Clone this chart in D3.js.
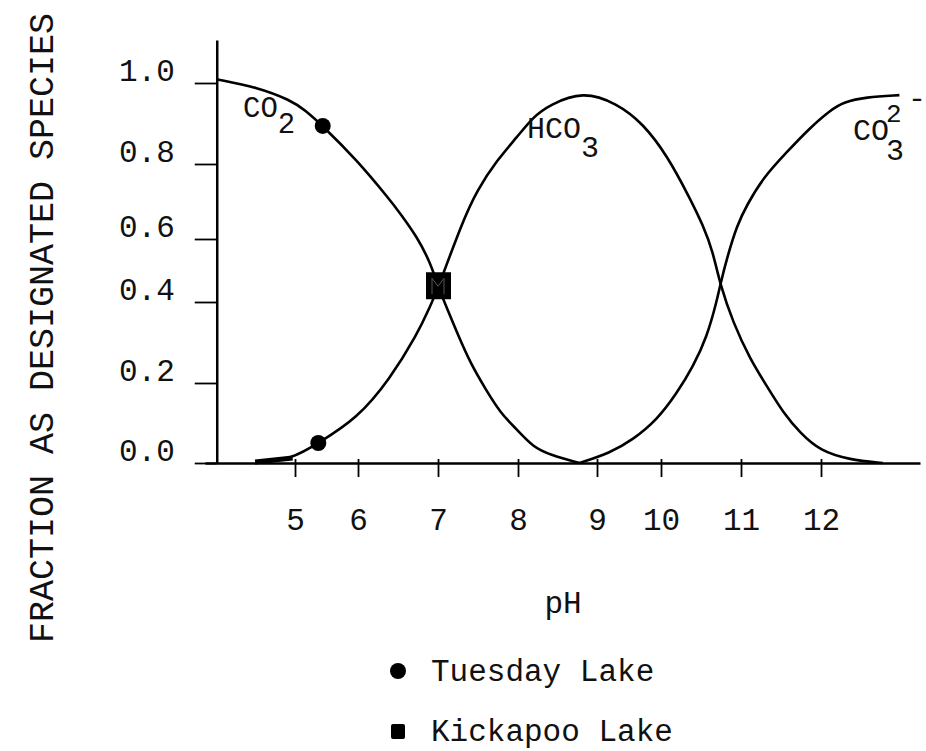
<!DOCTYPE html>
<html>
<head>
<meta charset="utf-8">
<script src="https://cdnjs.cloudflare.com/ajax/libs/d3/7.8.5/d3.min.js"></script>
<style>
  body { margin: 0; background: #fff; }
  svg text { font-family: 'Liberation Mono', 'DejaVu Sans Mono', monospace; fill: #111; }
</style>
</head>
<body>
<div id="chart"></div>
<script>
// pH ticks and fraction ticks as they are marked on the axes
var phTicks = [5, 6, 7, 8, 9, 10, 11, 12];
var fracTicks = [0.0, 0.2, 0.4, 0.6, 0.8, 1.0];

// CO2 (falls from 1 to 0)
var co2PH   = [4.01, 4.51, 4.94, 5.16, 5.44, 5.98, 6.40, 6.525, 6.74, 6.90, 7.00, 7.11, 7.25, 7.41, 7.60, 7.78, 7.99, 8.19, 8.41, 8.78];
var co2Frac = [1.01, 0.99, 0.958, 0.933, 0.894, 0.81, 0.704, 0.669, 0.605, 0.527, 0.451, 0.385, 0.319, 0.247, 0.183, 0.125, 0.083, 0.04, 0.02, 0.0];

// HCO3 (rises then falls)
var hco3PH   = [4.49, 4.97, 5.37, 5.98, 6.40, 6.74, 6.90, 7.00, 7.30, 7.49, 7.74, 7.99, 8.19, 8.40, 8.82, 9.31, 9.72, 10.08, 10.36, 10.525, 10.65, 10.74, 10.90, 11.11, 11.33, 11.53, 11.74, 11.99, 12.36, 12.78];
var hco3Frac = [0.0, 0.01, 0.05, 0.11, 0.21, 0.32, 0.388, 0.444, 0.643, 0.731, 0.81, 0.867, 0.916, 0.946, 0.98, 0.95, 0.90, 0.82, 0.709, 0.637, 0.559, 0.454, 0.35, 0.26, 0.19, 0.125, 0.075, 0.03, 0.008, 0.0];

// CO3 2- (rises from 0 to 1)
var co3PH   = [8.78, 9.20, 9.56, 9.94, 10.20, 10.40, 10.575, 10.70, 10.74, 10.825, 10.95, 11.075, 11.275, 11.575, 11.86, 12.12, 12.29, 12.56, 12.99];
var co3Frac = [0.0, 0.025, 0.058, 0.108, 0.175, 0.24, 0.314, 0.406, 0.454, 0.54, 0.637, 0.691, 0.763, 0.83, 0.889, 0.933, 0.953, 0.965, 0.97];

// lake measurements
var tuesdayPH   = [5.44, 5.37];
var tuesdayFrac = [0.894, 0.05];
var kickapooPH   = [7.0];
var kickapooFrac = [0.45];

var lakes = ['Tuesday Lake', 'Kickapoo Lake'];

var width = 926,
    height = 751;

var svg = d3.select('#chart')
  .append('svg')
  .attr('width', width)
  .attr('height', height);

// hand drawn axes, so tick spacing is not even
var x = d3.scaleLinear()
  .domain([3.85, 5, 6, 7, 8, 9, 10, 11, 12, 13.25])
  .range([205, 295, 358, 438, 518, 597, 661, 741, 821, 920]);

var y = d3.scaleLinear()
  .domain([0, 0.2, 0.4, 0.6, 0.8, 1.0, 1.12])
  .range([463, 383, 302, 239, 164, 83, 40]);

function zip(a, b) { return a.map(function(d, i) { return [d, b[i]]; }); }

var line = d3.line()
  .x(function(d) { return x(d[0]); })
  .y(function(d) { return y(d[1]); })
  .curve(d3.curveBasis);

// x axis
var xAxis = svg.append('g')
  .attr('transform', 'translate(0,' + y(0) + ')')
  .call(d3.axisBottom(x).tickValues(phTicks).tickSize(14).tickSizeOuter(0).tickFormat(d3.format('d')));

xAxis.select('.domain').attr('stroke', '#000').attr('stroke-width', 2.5);
xAxis.selectAll('.tick line').attr('y1', -4).attr('stroke', '#000').attr('stroke-width', 1.8);
xAxis.selectAll('.tick text')
  .attr('y', 67).attr('dy', 0)
  .style('font-size', '31px');

// y axis
var yAxis = svg.append('g')
  .attr('transform', 'translate(' + x(4) + ',0)')
  .call(d3.axisLeft(y).tickValues(fracTicks).tickSize(22).tickSizeOuter(0).tickPadding(20).tickFormat(d3.format('.1f')));

yAxis.select('.domain').attr('stroke', '#000').attr('stroke-width', 2.5);
yAxis.selectAll('.tick line').attr('stroke', '#000').attr('stroke-width', 1.8);
yAxis.selectAll('.tick text')
  .attr('y', -3).attr('dy', 0)
  .style('font-size', '31px');

// curves
var curves = [zip(co2PH, co2Frac), zip(hco3PH, hco3Frac), zip(co3PH, co3Frac)];

svg.selectAll('.curve')
  .data(curves)
  .enter()
  .append('path')
  .attr('class', 'curve')
  .attr('d', line)
  .attr('fill', 'none')
  .attr('stroke', '#000')
  .attr('stroke-width', 2.6)
  .attr('stroke-linejoin', 'round');

// smudge at the foot of the HCO3 curve
svg.append('path')
  .attr('d', d3.line().x(function(d) { return x(d[0]); }).y(function(d) { return y(d[1]) - 1; })(zip(hco3PH.slice(0, 2), hco3Frac.slice(0, 2))))
  .attr('stroke', '#000')
  .attr('stroke-width', 5);

// lake points
svg.selectAll('.tues')
  .data(zip(tuesdayPH, tuesdayFrac))
  .enter()
  .append('circle')
  .attr('class', 'tues')
  .attr('cx', function(d) { return x(d[0]); })
  .attr('cy', function(d) { return y(d[1]); })
  .attr('r', 8)
  .attr('fill', '#000');

svg.selectAll('.kick')
  .data(zip(kickapooPH, kickapooFrac))
  .enter()
  .append('rect')
  .attr('class', 'kick')
  .attr('x', function(d) { return x(d[0]) - 12; })
  .attr('y', function(d) { return y(d[1]) - 14; })
  .attr('width', 25)
  .attr('height', 27)
  .attr('fill', '#000');

svg.selectAll('.kickmark')
  .data(zip(kickapooPH, kickapooFrac))
  .enter()
  .append('path')
  .attr('class', 'kickmark')
  .attr('d', function(d) {
    var cx = x(d[0]), cy = y(d[1]);
    return 'M' + (cx - 6) + ',' + (cy + 8) + 'V' + (cy - 8) + 'L' + cx + ',' + cy + 'L' + (cx + 6) + ',' + (cy - 8) + 'V' + (cy + 8);
  })
  .attr('fill', 'none')
  .attr('stroke', '#555')
  .attr('stroke-width', 1);

// species labels
var co2Label = svg.append('text').attr('x', 243).attr('y', 117).style('font-size', '29px');
co2Label.append('tspan').text('CO');
co2Label.append('tspan').attr('dy', 16).text('2');

var hcoLabel = svg.append('text').attr('x', 527).attr('y', 138).style('font-size', '30px');
hcoLabel.append('tspan').text('HCO');
hcoLabel.append('tspan').attr('dy', 19).text('3');

svg.append('text').attr('x', 853).attr('y', 140).style('font-size', '30px').text('CO');
svg.append('text').attr('x', 886).attr('y', 160).style('font-size', '30px').text('3');
svg.append('text').attr('x', 886).attr('y', 122).style('font-size', '26px').text('2');
svg.append('text').attr('x', 908).attr('y', 108).style('font-size', '30px').text('-');

// axis titles
svg.append('text')
  .attr('x', 563).attr('y', 613)
  .attr('text-anchor', 'middle')
  .style('font-size', '31px')
  .text('pH');

svg.append('text')
  .attr('transform', 'translate(53,328) rotate(-90)')
  .attr('text-anchor', 'middle')
  .style('font-size', '35px')
  .text('FRACTION AS DESIGNATED SPECIES');

// legend
var legend = svg.selectAll('.legend')
  .data(lakes)
  .enter()
  .append('g')
  .attr('class', 'legend')
  .attr('transform', function(d, i) { return 'translate(398,' + (671 + i * 60) + ')'; });

legend.each(function(d, i) {
  var g = d3.select(this);
  if (i == 0) {
    g.append('circle').attr('r', 8).attr('fill', '#000');
  } else {
    g.append('rect').attr('x', -7).attr('y', -7).attr('width', 14).attr('height', 15).attr('rx', 2).attr('fill', '#000');
  }
  g.append('text')
    .attr('x', 33).attr('y', 10)
    .style('font-size', '31px')
    .text(d);
});
</script>
</body>
</html>
